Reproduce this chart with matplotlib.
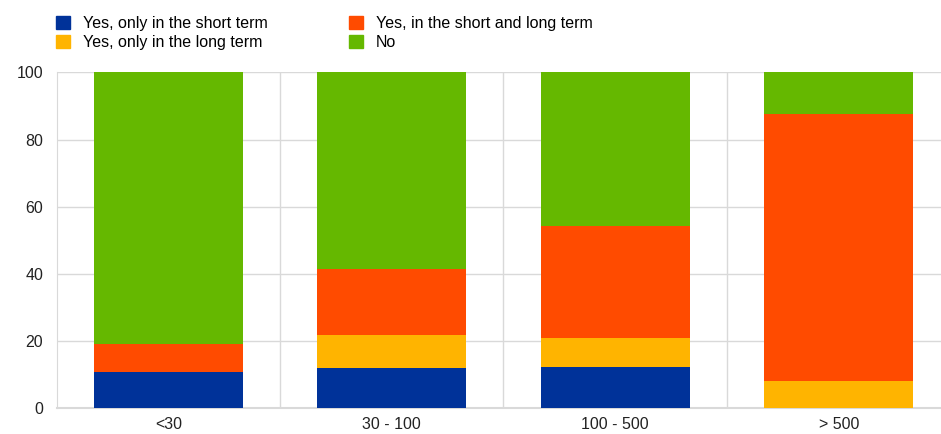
import numpy as np
import matplotlib
matplotlib.use("Agg")
from matplotlib import pyplot as plt
from matplotlib.patches import Patch

plt.rcParams['font.family'] = ['Liberation Sans', 'DejaVu Sans']

categories = ["<30", "30 - 100", "100 - 500", "> 500"]
short_only = [10.9, 12.1, 12.4, 0.0]
long_only = [0.0, 9.8, 8.4, 8.2]
short_and_long = [8.3, 19.5, 33.4, 79.3]
no = [80.8, 58.6, 45.8, 12.5]

series = [
    ("Yes, only in the short term", short_only, "#003299"),
    ("Yes, only in the long term", long_only, "#FFB400"),
    ("Yes, in the short and long term", short_and_long, "#FF4B00"),
    ("No", no, "#65B800"),
]

W, H = 941, 434
fs = 11.5
fig = plt.figure(figsize=(W / 100, H / 100), dpi=100)
ax = fig.add_axes([56.5 / W, (H - 408.3) / H, 894 / W, 336 / H])

x = np.arange(len(categories))
bottom = np.zeros(len(categories))
for label, vals, col in series:
    ax.bar(x, vals, width=0.667, bottom=bottom, color=col, label=label, zorder=3)
    bottom += np.array(vals)

ax.set_xlim(-0.5, len(categories) - 0.5)
ax.set_ylim(0, 100)
ax.set_yticks(np.arange(0, 101, 20))
ax.set_xticks(x)
ax.set_xticklabels(categories)
ax.tick_params(length=0, labelsize=fs, colors="#222222")
ax.tick_params(axis="x", pad=6)
ax.tick_params(axis="y", pad=9.5)
ax.grid(axis="y", color="#d9d9d9", linewidth=1, zorder=0)
for b in [0.5, 1.5, 2.5]:
    ax.axvline(b, color="#d9d9d9", linewidth=1, zorder=0)
for s in ["top", "right"]:
    ax.spines[s].set_visible(False)
ax.spines["left"].set_color("#d9d9d9")
ax.spines["bottom"].set_color("#d9d9d9")
ax.spines["bottom"].set_linewidth(1.5)

handles = [Patch(color=c, label=l) for l, v, c in series]
fig.legend(handles=handles, ncol=2, loc="upper left", bbox_to_anchor=(53 / W, 1 - 13 / H),
           frameon=False, fontsize=fs, handlelength=0.875, handleheight=0.875,
           handletextpad=0.8, columnspacing=5.1, labelspacing=0.25, borderaxespad=0,
           borderpad=0.2)

fig.savefig("out.png", dpi=100)
